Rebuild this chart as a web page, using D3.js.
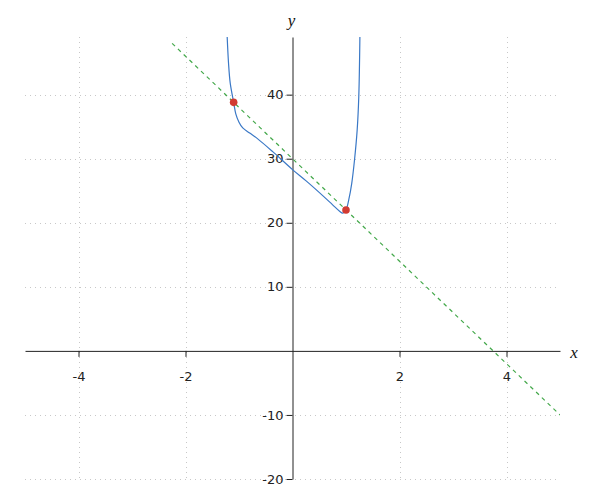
<!DOCTYPE html>
<html>
<head>
<meta charset="utf-8">
<script src="https://cdn.jsdelivr.net/npm/d3@7"></script>
<style>
  html, body { margin: 0; padding: 0; background: #fff; }
  svg { display: block; }
  .tick text { font-family: "DejaVu Sans", sans-serif; font-size: 13px; fill: #222; }
</style>
</head>
<body>
<script>
// ---- data ----
const curveX = [-1.222, -1.196, -1.164, -1.1, -1.06, -1.0, -0.93, -0.8, -0.65, -0.37, 0.0, 0.26, 0.57, 0.75, 0.88, 0.94, 1.0, 1.052, 1.108, 1.159, 1.209, 1.239, 1.26];
const curveY = [49.2, 44.95, 41.8, 38.8, 37.0, 35.7, 34.8, 34.0, 33.1, 31.1, 28.3, 26.5, 24.2, 22.8, 21.8, 21.5, 22.0, 23.6, 26.2, 29.8, 34.5, 39.7, 49.2];
const lineX = [-2.25, 5];
const lineY = [48, -10];
const pointX = [-1.1, 1.0];
const pointY = [38.8, 22.0];
const xTicks = [-4, -2, 2, 4];
const yTicks = [-20, -10, 10, 20, 30, 40];
const xDomain = [-5, 5];
const yDomain = [-20, 49];

const W = 600, H = 500;
const margin = { left: 25, right: 40, top: 37, bottom: 21 };

const svg = d3.select("body").append("svg").attr("width", W).attr("height", H);

const x = d3.scaleLinear().domain(xDomain).range([margin.left, W - margin.right]);
const y = d3.scaleLinear().domain(yDomain).range([H - margin.bottom, margin.top]);

svg.append("defs").append("clipPath").attr("id", "clip")
  .append("rect")
  .attr("x", margin.left).attr("y", margin.top)
  .attr("width", W - margin.left - margin.right)
  .attr("height", H - margin.top - margin.bottom);

// grid
const grid = svg.append("g").attr("stroke", "#c8c8c8").attr("stroke-dasharray", "1,4").attr("stroke-width", 1);
grid.selectAll("line.v").data(xTicks).join("line")
  .attr("x1", d => Math.round(x(d)) + 0.5).attr("x2", d => Math.round(x(d)) + 0.5)
  .attr("y1", margin.top).attr("y2", H - margin.bottom);
grid.selectAll("line.h").data(yTicks).join("line")
  .attr("y1", d => Math.round(y(d)) + 0.5).attr("y2", d => Math.round(y(d)) + 0.5)
  .attr("x1", margin.left).attr("x2", W - margin.right);

// axes
svg.append("g")
  .attr("transform", `translate(0,${y(0)})`)
  .call(d3.axisBottom(x).tickValues(xTicks).tickSize(6).tickSizeOuter(0).tickPadding(15).tickFormat(d3.format("d")));
svg.append("g")
  .attr("transform", `translate(${x(0)},0)`)
  .call(d3.axisLeft(y).tickValues(yTicks).tickSize(6).tickSizeOuter(0).tickPadding(3).tickFormat(d3.format("d")));
svg.selectAll(".domain, .tick line").attr("stroke", "#222");
svg.selectAll(".tick text").text(function(d){ return d < 0 ? "-" + Math.abs(d) : d; });

// axis labels
svg.append("text").attr("x", x(0) - 1).attr("y", 26)
  .attr("text-anchor", "middle")
  .style("font-family", "'Liberation Serif', serif").style("font-style", "italic").style("font-size", "17px")
  .attr("fill", "#111").text("y");
svg.append("text").attr("x", W - margin.right + 14).attr("y", y(0) + 7)
  .attr("text-anchor", "middle")
  .style("font-family", "'Liberation Serif', serif").style("font-style", "italic").style("font-size", "17px")
  .attr("fill", "#111").text("x");

const plot = svg.append("g").attr("clip-path", "url(#clip)");

// secant line
const lineData = lineX.map((d, i) => [d, lineY[i]]);
plot.append("path")
  .datum(lineData)
  .attr("d", d3.line().x(d => x(d[0])).y(d => y(d[1])))
  .attr("fill", "none").attr("stroke", "#43a84a").attr("stroke-width", 1.2)
  .attr("stroke-dasharray", "4,4");

// curve
const curveData = curveX.map((d, i) => [d, curveY[i]]);
plot.append("path")
  .datum(curveData)
  .attr("d", d3.line().curve(d3.curveCatmullRom.alpha(0.5)).x(d => x(d[0])).y(d => y(d[1])))
  .attr("fill", "none").attr("stroke", "#3a78c6").attr("stroke-width", 1.2);

// points
svg.selectAll("circle.pt").data(pointX.map((d, i) => [d, pointY[i]])).join("circle")
  .attr("cx", d => x(d[0])).attr("cy", d => y(d[1])).attr("r", 3.8)
  .attr("fill", "#d23a32");
</script>
</body>
</html>
